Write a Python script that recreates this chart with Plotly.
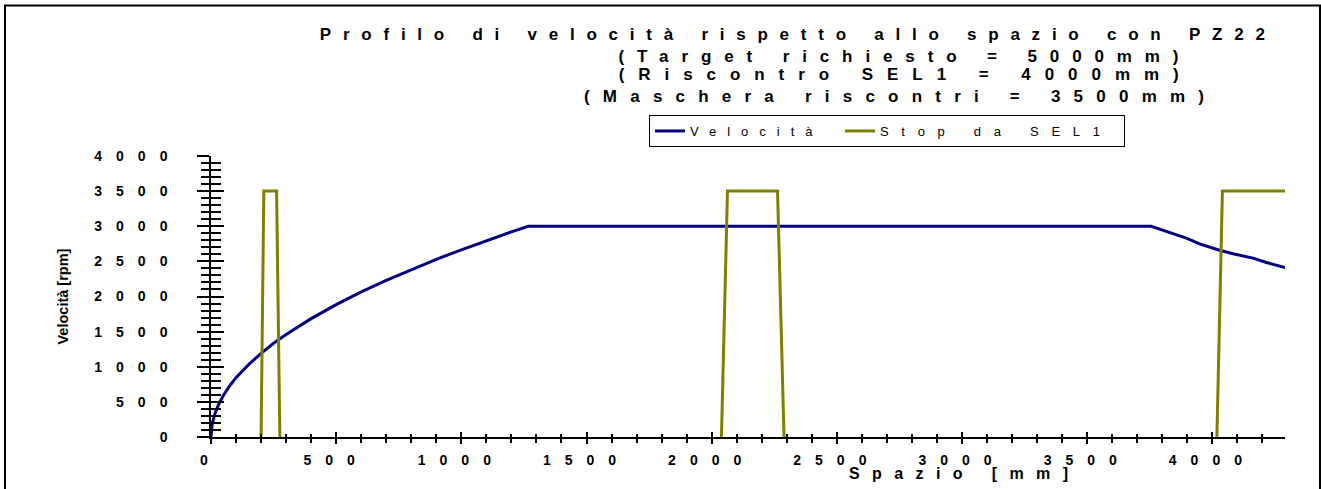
import plotly.graph_objects as go

# ---------------- data ----------------
spazio_vel = [0, 5, 15, 30, 50, 75, 100, 150, 200, 250, 300, 400, 500, 600, 700,
              800, 900, 1000, 1100, 1200, 1267, 3756, 3816, 3896, 3949, 4022,
              4082, 4162, 4216, 4290]
velocita = [0, 190, 325, 460, 595, 730, 845, 1030, 1190, 1335, 1460, 1685, 1885,
            2065, 2230, 2385, 2530, 2665, 2795, 2920, 3000, 3000, 2926, 2831,
            2750, 2665, 2608, 2546, 2484, 2413]

spazio_stop = [200, 211, 262, 275, None, 2039, 2063, 2263, 2289, None, 4018, 4040, 4290]
stop_sel1 = [0, 3500, 3500, 0, None, 0, 3500, 3500, 0, None, 0, 3500, 3500]

title_lines = ["Profilo di velocità rispetto allo spazio con PZ22",
               "(Target richiesto = 5000mm)",
               "(Riscontro SEL1 = 4000mm)",
               "(Maschera riscontri = 3500mm)"]
x_title = "Spazio [mm]"
y_title = "Velocità [rpm]"
series_names = ["Velocità", "Stop da SEL1"]
x_range = [0, 4290]
y_range = [0, 4000]

# ---------------- layout geometry ----------------
W, H = 1321, 489
ML, MR, MT, MB = 211, 36, 156, 52
PW, PH = W - ML - MR, H - MT - MB


def px(x):
    return (x - ML) / PW


def py(y):
    return (H - MB - y) / PH


FONT = "Arial, Liberation Sans, sans-serif"
NARROW = "Liberation Sans Narrow, Arial Narrow, Liberation Sans, Arial, sans-serif"
NAVY = "#000080"
OLIVE = "#808000"

fig = go.Figure()
fig.add_trace(go.Scatter(x=spazio_vel, y=velocita, mode="lines", name=series_names[0],
                         line=dict(color=NAVY, width=3), legendwidth=145))
# second series on the overlay axes (same ranges) so the inside tick marks are drawn
fig.add_trace(go.Scatter(x=spazio_stop, y=stop_sel1, mode="lines", name=series_names[1],
                         line=dict(color=OLIVE, width=3), connectgaps=False,
                         legendwidth=239, xaxis="x2", yaxis="y2"))

tickfont = dict(family=FONT, size=14, color="black", weight="bold")

fig.update_layout(
    width=W, height=H,
    margin=dict(l=ML, r=MR, t=MT, b=MB, pad=0),
    paper_bgcolor="white", plot_bgcolor="white",
    font=dict(family=FONT, color="black"),
    showlegend=True,
    legend=dict(orientation="h", x=px(649), xanchor="left", y=py(131), yanchor="middle",
                bordercolor="black", borderwidth=1, bgcolor="white",
                font=dict(family=FONT, size=13, color="black"),
                itemwidth=30, entrywidthmode="pixels"),
    xaxis=dict(range=x_range, showgrid=False, zeroline=False, showline=True,
               linecolor="black", linewidth=1.5, ticks="outside", ticklen=5,
               tickwidth=2, tickcolor="black", dtick=500, tick0=0,
               tickfont=tickfont, ticklabelstandoff=4,
               minor=dict(dtick=100, ticks="outside", ticklen=4, tickwidth=1.5,
                          tickcolor="black", showgrid=False)),
    xaxis2=dict(range=x_range, overlaying="x", anchor="y2", side="bottom",
                showgrid=False, zeroline=False, showline=False, showticklabels=False,
                ticks="inside", ticklen=5, tickwidth=2, tickcolor="black",
                dtick=500, tick0=0,
                minor=dict(dtick=100, ticks="inside", ticklen=3, tickwidth=1.5,
                           tickcolor="black", showgrid=False)),
    yaxis=dict(range=y_range, showgrid=False, zeroline=False, showline=True,
               linecolor="black", linewidth=1.5, ticks="outside", ticklen=12,
               tickwidth=2, tickcolor="black", dtick=500, tick0=0,
               tickfont=tickfont, ticklabelstandoff=13,
               minor=dict(dtick=100, ticks="outside", ticklen=8, tickwidth=1.5,
                          tickcolor="black", showgrid=False)),
    yaxis2=dict(range=y_range, overlaying="y", anchor="x2", side="left",
                showgrid=False, zeroline=False, showline=False, showticklabels=False,
                ticks="inside", ticklen=13, tickwidth=2, tickcolor="black",
                dtick=500, tick0=0,
                minor=dict(dtick=100, ticks="inside", ticklen=10, tickwidth=1.5,
                           tickcolor="black", showgrid=False)),
)

# title lines, axis titles (annotations)
title_font = dict(family=NARROW, size=17, color="black", weight="bold")
title_centers = [(792, 35), (898, 56), (898, 75), (894, 96)]
for txt, (cx, cy) in zip(title_lines, title_centers):
    fig.add_annotation(text=txt, x=px(cx), y=py(cy), xref="paper", yref="paper",
                       xanchor="center", yanchor="middle", showarrow=False,
                       font=title_font)
fig.add_annotation(text=x_title, x=px(958), y=py(473), xref="paper", yref="paper",
                   xanchor="center", yanchor="middle", showarrow=False,
                   font=dict(family=NARROW, size=16, color="black", weight="bold"))
fig.add_annotation(text=y_title, x=px(62), y=py(296.5), xref="paper", yref="paper",
                   xanchor="center", yanchor="middle", showarrow=False, textangle=-90,
                   font=dict(family=FONT, size=14.5, color="black", weight="bold"))

# outer frame
fig.add_shape(type="rect", xref="paper", yref="paper", x0=px(5), x1=px(1320),
              y0=py(495), y1=py(5.5), line=dict(color="black", width=2),
              fillcolor="rgba(0,0,0,0)", layer="above")

post = r"""
document.body.style.margin = '0';
var gd = document.getElementById('{plot_id}');
var css = document.createElement('style');
css.textContent = '.xtick text, .ytick text {letter-spacing: 14px;}';
document.head.appendChild(css);
var legSp = [11, 12.7];
gd.querySelectorAll('.legendtext').forEach(function(t, k){
  t.style.letterSpacing = (legSp[k] !== undefined ? legSp[k] : 12) + 'px';
});
var targets = {0: 945, 1: 560, 2: 560, 3: 620, 4: 219};
gd.querySelectorAll('g.annotation').forEach(function(a){
  var i = a.getAttribute('data-index');
  if(!(i in targets)) return;
  var t = a.querySelector('text.annotation-text');
  if(!t) return;
  var w = t.getComputedTextLength();
  var n = t.textContent.length;
  var L = (targets[i] - w) / (n - 1);
  t.style.letterSpacing = L + 'px';
  var x = parseFloat(t.getAttribute('x')) || 0;
  t.setAttribute('x', x + L / 2);
});
"""

fig.write_html("out.html", post_script=post, config={"displayModeBar": False})
